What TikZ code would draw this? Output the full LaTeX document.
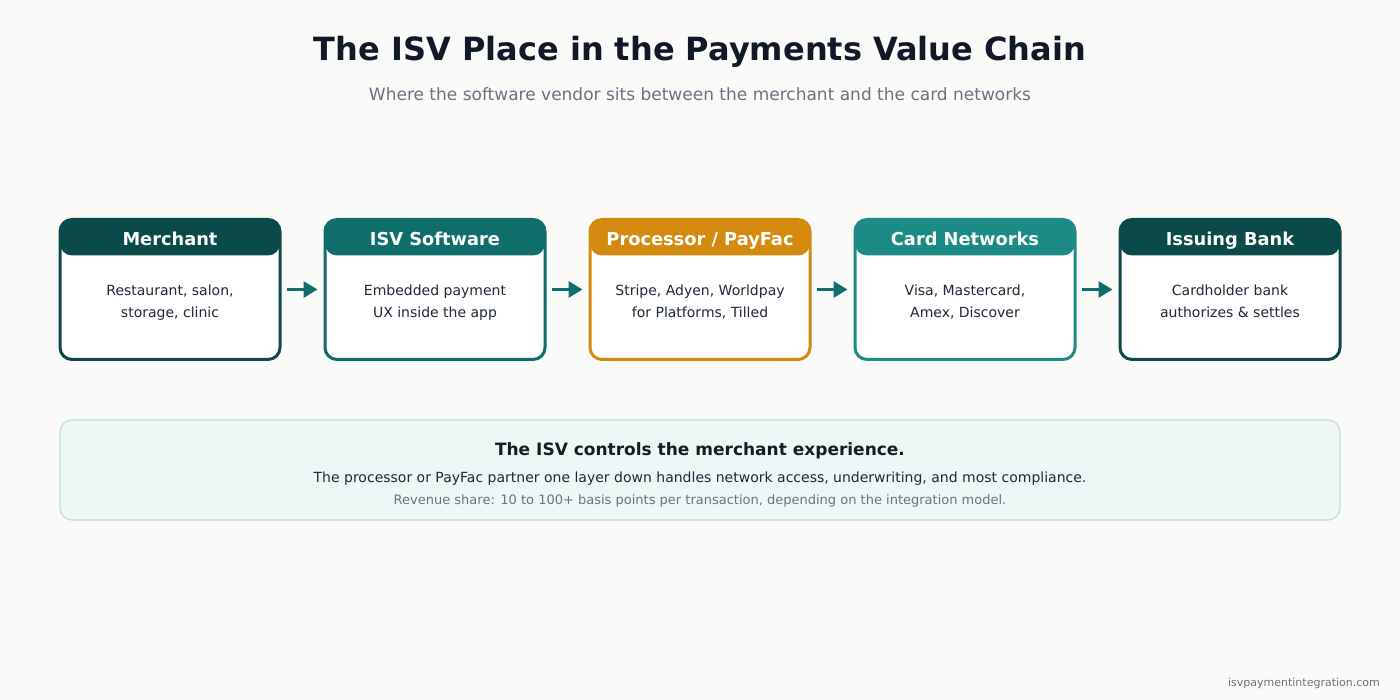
\documentclass[tikz,border=0pt]{standalone}
\usepackage{fontspec}
\setmainfont{DejaVu Sans}
\usetikzlibrary{arrows.meta}

\definecolor{bgcol}{HTML}{FAFAF8}
\definecolor{titlecol}{HTML}{111827}
\definecolor{subcol}{HTML}{6B7280}
\definecolor{bodycol}{HTML}{1F2937}
\definecolor{darkteal}{HTML}{0B4A4A}
\definecolor{midteal}{HTML}{0F6E6B}
\definecolor{lightteal}{HTML}{1C8A87}
\definecolor{payorange}{HTML}{D4890F}
\definecolor{notefill}{HTML}{EEF6F6}
\definecolor{notedraw}{HTML}{BCDDDB}
\definecolor{notetitle}{HTML}{102020}

\tikzset{
  stage/.style={draw=#1, fill=white, line width=3pt, rounded corners=12pt,
    minimum width=220pt, minimum height=140pt, inner sep=0pt,
    path picture={\fill[#1] (path picture bounding box.north west)
      rectangle ([yshift=-36pt]path picture bounding box.north east);}},
  stagetitle/.style={anchor=base, text=white, font=\fontsize{17.8}{20}\selectfont\bfseries},
  stagetext/.style={text=bodycol, align=center, font=\fontsize{14}{22}\selectfont},
  flow/.style={-{Triangle[length=14pt,width=16pt]}, line width=3pt, draw=midteal,
    shorten <=5pt, shorten >=6pt}
}

\begin{document}
\begin{tikzpicture}[x=1pt, y=-1pt]
  \fill[bgcol] (0, 0) rectangle (1400, 700);
  \useasboundingbox (0, 0) rectangle (1400, 700);

  % title
  \node (title) at (700, 61) [anchor=base, text=titlecol, font=\fontsize{32}{36}\selectfont\bfseries]
    {The ISV Place in the Payments Value Chain};
  \node (subtitle) at (700, 101) [anchor=base, text=subcol, font=\fontsize{17}{20}\selectfont]
    {Where the software vendor sits between the merchant and the card networks};

  % value chain
  \node (merchant) at (170, 289.5) [stage = darkteal] {};
  \node (isv) at (435, 289.5) [stage = midteal] {};
  \node (proc) at (700, 289.5) [stage = payorange] {};
  \node (cards) at (965, 289.5) [stage = lightteal] {};
  \node (bank) at (1230, 289.5) [stage = darkteal] {};

  \node (merchant-t) at (170, 245.3) [stagetitle] {Merchant};
  \node (isv-t) at (435, 245.3) [stagetitle] {ISV Software};
  \node (proc-t) at (700, 245.3) [stagetitle] {Processor / PayFac};
  \node (cards-t) at (965, 245.3) [stagetitle] {Card Networks};
  \node (bank-t) at (1230, 245.3) [stagetitle] {Issuing Bank};

  \node (merchant-b) at (170, 302.6) [stagetext] {\strut Restaurant, salon,\\storage, clinic\strut};
  \node (isv-b) at (435, 302.6) [stagetext] {\strut Embedded payment\\UX inside the app\strut};
  \node (proc-b) at (700, 302.6) [stagetext] {\strut Stripe, Adyen, Worldpay\\for Platforms, Tilled\strut};
  \node (cards-b) at (965, 302.6) [stagetext] {\strut Visa, Mastercard,\\Amex, Discover\strut};
  \node (bank-b) at (1230, 302.6) [stagetext] {\strut Cardholder bank\\authorizes \& settles\strut};

  \draw[flow] (merchant) -- (isv);
  \draw[flow] (isv) -- (proc);
  \draw[flow] (proc) -- (cards);
  \draw[flow] (cards) -- (bank);

  % note
  \draw[fill = notefill, draw = notedraw, line width = 1.2pt, rounded corners = 12pt]
    (60, 420) rectangle (1340, 520);
  \node (note-t) at (700, 455) [anchor=base, text=notetitle, font=\fontsize{17}{20}\selectfont\bfseries]
    {The ISV controls the merchant experience.};
  \node (note-b) at (700, 482) [anchor=base, text=bodycol, font=\fontsize{14}{17}\selectfont]
    {The processor or PayFac partner one layer down handles network access, underwriting, and most compliance.};
  \node (note-s) at (700, 504.5) [anchor=base, text=subcol, font=\fontsize{13}{15}\selectfont]
    {Revenue share: 10 to 100+ basis points per transaction, depending on the integration model.};

  \node (site) at (1380, 686) [anchor=base east, inner sep=0pt, text=subcol, font=\fontsize{11}{13}\selectfont]
    {isvpaymentintegration.com};
\end{tikzpicture}
\end{document}
